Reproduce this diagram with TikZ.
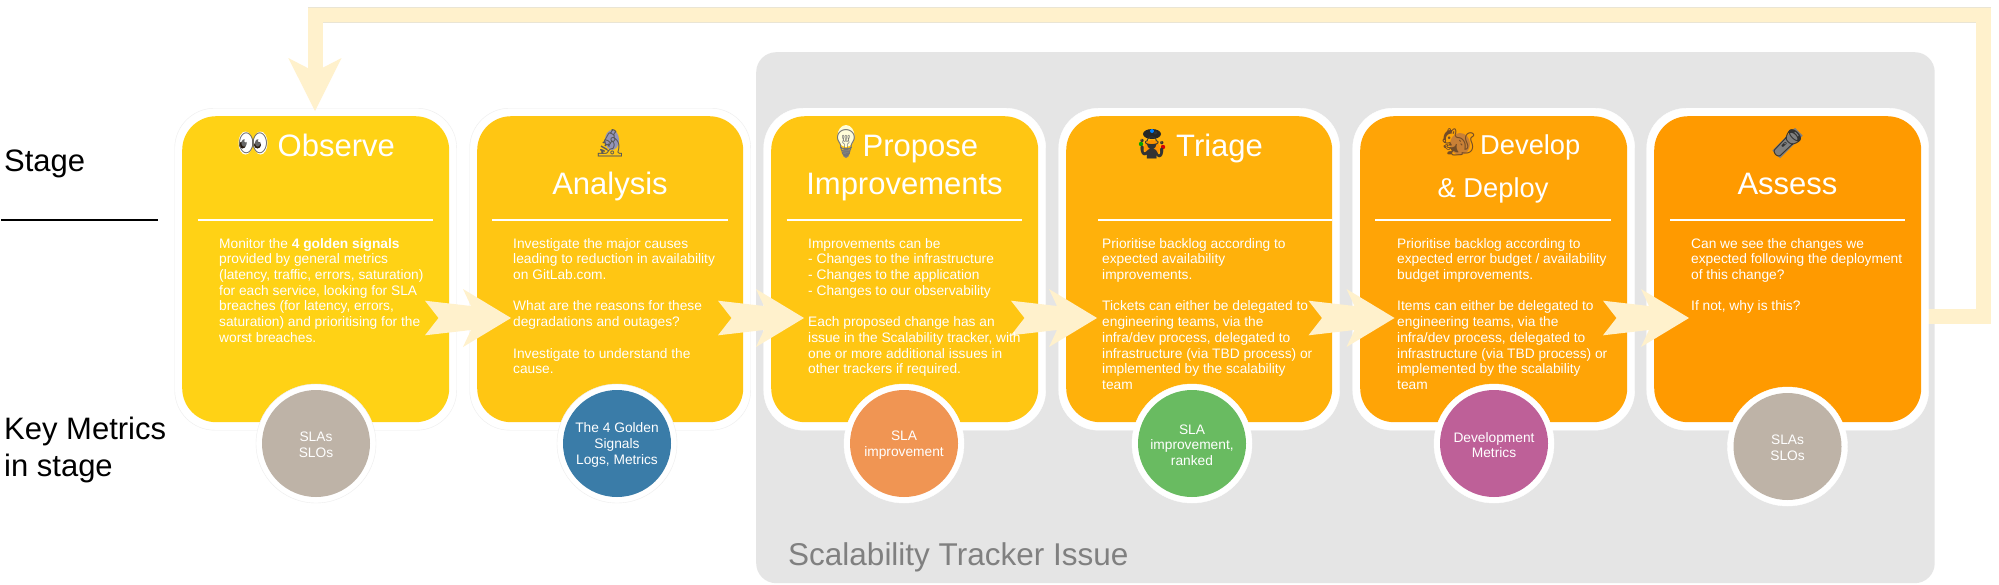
\documentclass[tikz,border=0pt]{standalone}
\usepackage{fontspec}
\setmainfont{Liberation Sans}
\newfontfamily\emojifont{Noto Emoji}
\usetikzlibrary{shapes.geometric}
\definecolor{flowfill}{HTML}{FFF1CC}
\definecolor{flowedge}{HTML}{EAE5D4}
\definecolor{trackgray}{HTML}{E5E5E5}
\definecolor{stoneC}{HTML}{BEB3A7}
\definecolor{blueC}{HTML}{3A7CA8}
\definecolor{orangeC}{HTML}{F09553}
\definecolor{greenC}{HTML}{69BB61}
\definecolor{pinkC}{HTML}{BE6098}
\definecolor{cardA}{HTML}{FFD215}\definecolor{cardB}{HTML}{FFC613}
\definecolor{cardC}{HTML}{FFC613}\definecolor{cardD}{HTML}{FFB10B}
\definecolor{cardE}{HTML}{FFA406}\definecolor{cardF}{HTML}{FF9A00}
\definecolor{hair}{HTML}{EDEDED}
\tikzset{
  x=1pt,y=-1pt,
  ring/.style={fill=white,draw=#1,line width=.4pt,rounded corners=40pt},
  divider/.style={draw=white,line width=1.6pt,line cap=butt},
  titletext/.style={text=white,inner sep=0pt,anchor=base,font=\fontsize{31}{31}\selectfont},
  bodytext/.style={text=white,inner sep=0pt,align=left,anchor=north west,font=\fontsize{13.75}{15.7}\selectfont},
  circletext/.style={text=white,inner sep=0pt,align=center,font=\fontsize{13.75}{15.7}\selectfont},
  sidetext/.style={text=black,inner sep=0pt,anchor=base west,font=\fontsize{31}{31}\selectfont},
  emojitext/.style={inner sep=0pt,font=\emojifont\fontsize{#1}{#1}\selectfont},
  emojitext/.default={27},
  flowarrow/.style={fill=flowfill,draw=none,to path={
     ([shift={(-86,-17.3)}]\tikztotarget) -- ([shift={(-40,-12)}]\tikztotarget) --
     ([shift={(-48,-29)}]\tikztotarget) -- (\tikztotarget) --
     ([shift={(-48,29)}]\tikztotarget) -- ([shift={(-40,12)}]\tikztotarget) --
     ([shift={(-86,17.3)}]\tikztotarget) -- ([shift={(-72.5,0)}]\tikztotarget) -- cycle}},
  feedbackline/.style={draw=flowedge,line width=15.4pt,line join=miter},
  feedbackcore/.style={draw=flowfill,line width=14.6pt,line join=miter},
  feedbackhead/.style={fill=flowfill,draw=none},
}
\newcommand{\stagecard}[5]{%
  \node[ring={#5},inner sep=0pt,minimum width=#3-#2+15,minimum height=322,anchor=north west] (o#1) at (#2-7.5,108) {};
  \node[fill=#4,rounded corners=34pt,inner sep=0pt,minimum width=#3-#2,minimum height=306,anchor=north west] (c#1) at (#2,116) {};
}
\newcommand{\metric}[6]{%
  \node[ellipse,fill=white,draw=#5,line width=.4pt,inner sep=0pt,minimum width=120,minimum height=119] (r#1) at (#2,#3) {};
  \node[ellipse,fill=#4,inner sep=0pt,minimum width=108,minimum height=107] (m#1) at (#2,#3) {};
  \node[circletext] (l#1) at (#2,#3+1.5) {#6};
}
\begin{document}
\begin{tikzpicture}
\useasboundingbox (0,0) rectangle (1999,584);
\fill[white] (0,0) rectangle (1999,584);
% tracker panel
\node[fill=trackgray,rounded corners=20pt,inner sep=0pt,minimum width=1178.5,minimum height=531,anchor=north west] (panel) at (756,52) {};
\node[text=black!50,inner sep=0pt,anchor=base west,font=\fontsize{31.5}{31.5}\selectfont] (paneltitle) at (788,565) {Scalability Tracker Issue};
% feedback line
\coordinate (fbstart) at (1925,316.5);
\coordinate (fbelbow) at (1983.3,14.8);
\coordinate (fbdrop) at (315.2,70);
\coordinate (fbtip) at (315,111);
\draw[feedbackline] (fbstart) -| (fbelbow) -| (fbdrop);
\draw[feedbackcore] (fbstart) -| (fbelbow) -| (fbdrop);
% cards
\stagecard{1}{182}{449}{cardA}{hair}
\stagecard{2}{477}{743}{cardB}{hair}
\stagecard{3}{771}{1038}{cardC}{white}
\stagecard{4}{1066}{1332}{cardD}{white}
\stagecard{5}{1360}{1627}{cardE}{white}
\stagecard{6}{1654}{1921}{cardF}{white}
% feedback head
\fill[feedbackhead] (fbtip) -- ++(26.6,-53) -- ++(-19.4,10) -- ++(-14.5,0) -- ++(-19.4,-10) -- cycle;
% metrics
\metric{1}{316}{443.5}{stoneC}{hair}{SLAs\\SLOs}
\metric{2}{617}{443.5}{blueC}{hair}{The 4 Golden\\Signals\\Logs, Metrics}
\metric{3}{904}{443.5}{orangeC}{white}{SLA\\improvement}
\metric{4}{1192}{443.5}{greenC}{white}{SLA\\improvement,\\ranked}
\metric{5}{1494}{443.5}{pinkC}{white}{Development\\Metrics}
\metric{6}{1787.5}{446.5}{stoneC}{white}{SLAs\\SLOs}
% dividers
\draw[divider] (197.5,220) -- (433,220);
\draw[divider] (492,220) -- (728,220);
\draw[divider] (786.5,220) -- (1022,220);
\draw[divider] (1098,220) -- (1332,220);
\draw[divider] (1375,220) -- (1611,220);
\draw[divider] (1670,220) -- (1905,220);
% flow arrows
\coordinate (n1) at (438.5,318); \coordinate (t1) at (511,318);
\coordinate (n2) at (731.5,318); \coordinate (t2) at (804,318);
\coordinate (n3) at (1024.5,318); \coordinate (t3) at (1097,318);
\coordinate (n4) at (1322,318); \coordinate (t4) at (1394.5,318);
\coordinate (n5) at (1616.5,318); \coordinate (t5) at (1689,318);
\foreach \i in {1,...,5} \path[flowarrow] (n\i) to (t\i);
% emoji backings
\fill[white] (245.5,143) ellipse (7 and 11.5);
\fill[white] (260.5,143) ellipse (7 and 11.5);
\fill[black!80!brown] (242.5,145) circle (3.5);
\fill[black!80!brown] (257.5,145) circle (3.5);
\fill[blue!20!gray!70!white] (612,140) ellipse (7 and 10);
\fill[yellow!15!white] (846,136) ellipse (8.5 and 11);
\fill[black!50] (846,153) ellipse (3.5 and 5);
\fill[black!85] (1152,134) ellipse (9 and 5);
\fill[orange!85!yellow] (1152,148) ellipse (8 and 8);
\fill[green!65!black] (1141,144) circle (2.2);
\fill[red!85!black] (1163,147) circle (2.2);
\fill[blue!50!cyan] (1152,131) circle (2);
\fill[brown!85!orange] (1460,144) ellipse (10 and 11);
\fill[black!50,rotate around={-45:(1787.5,143)}] (1782,127) rectangle (1793,159);
% titles
\node[emojitext=24] (e1) at (253,143) {\textcolor{black!60}{👀}};
\node[titletext,anchor=base west] (h1) at (277.5,156.7) {Observe};
\node[emojitext] (e2) at (610,143) {\textcolor{black!65}{🔬}};
\node[titletext] (h2) at (610,194.3) {Analysis};
\node[emojitext] (e3) at (846,143) {\textcolor{black!55}{💡}};
\node[titletext,anchor=base west] (h3) at (862.5,156.7) {Propose};
\node[titletext] (h3b) at (904.5,194.3) {Improvements};
\node[emojitext] (e4) at (1152,145) {\textcolor{black!80}{🤹}};
\node[titletext,anchor=base west] (h4) at (1176,156.7) {Triage};
\node[emojitext] (e5) at (1458.5,142) {\textcolor{brown!60!black}{🐿}};
\node[titletext,anchor=base west,font=\fontsize{27.3}{27.3}\selectfont] (h5) at (1480,154) {Develop};
\node[titletext,anchor=base west,font=\fontsize{27.3}{27.3}\selectfont] (h5b) at (1437.5,197.3) {\& Deploy};
\node[emojitext,xscale=-1] (e6) at (1787.5,143) {\textcolor{black!80}{🔦}};
\node[titletext] (h6) at (1787.5,194.3) {Assess};
% body
\node[bodytext] (b1) at (219,238) {Monitor the \textbf{4 golden signals}\\provided by general metrics\\(latency, traffic, errors, saturation)\\for each service, looking for SLA\\breaches (for latency, errors,\\saturation) and prioritising for the\\worst breaches.};
\node[bodytext] (b2) at (513,238) {Investigate the major causes\\leading to reduction in availability\\on GitLab.com.\\[15.7pt]What are the reasons for these\\degradations and outages?\\[15.7pt]Investigate to understand the\\cause.};
\node[bodytext] (b3) at (808,238) {Improvements can be\\- Changes to the infrastructure\\- Changes to the application\\- Changes to our observability\\[15.7pt]Each proposed change has an\\issue in the Scalability tracker, with\\one or more additional issues in\\other trackers if required.};
\node[bodytext] (b4) at (1102,238) {Prioritise backlog according to\\expected availability\\improvements.\\[15.7pt]Tickets can either be delegated to\\engineering teams, via the\\infra/dev process, delegated to\\infrastructure (via TBD process) or\\implemented by the scalability\\team};
\node[bodytext] (b5) at (1397,238) {Prioritise backlog according to\\expected error budget / availability\\budget improvements.\\[15.7pt]Items can either be delegated to\\engineering teams, via the\\infra/dev process, delegated to\\infrastructure (via TBD process) or\\implemented by the scalability\\team};
\node[bodytext] (b6) at (1691,238) {Can we see the changes we\\expected following the deployment\\of this change?\\[15.7pt]If not, why is this?};
% side
\node[sidetext] (s1) at (4,171.7) {Stage};
\coordinate (rulestart) at (1,220);
\coordinate (ruleend) at (158,220);
\draw[black,line width=1.8pt] (rulestart) -- (ruleend);
\node[sidetext] (s2) at (4,439.3) {Key Metrics};
\node[sidetext] (s3) at (4,476) {in stage};
\end{tikzpicture}
\end{document}
